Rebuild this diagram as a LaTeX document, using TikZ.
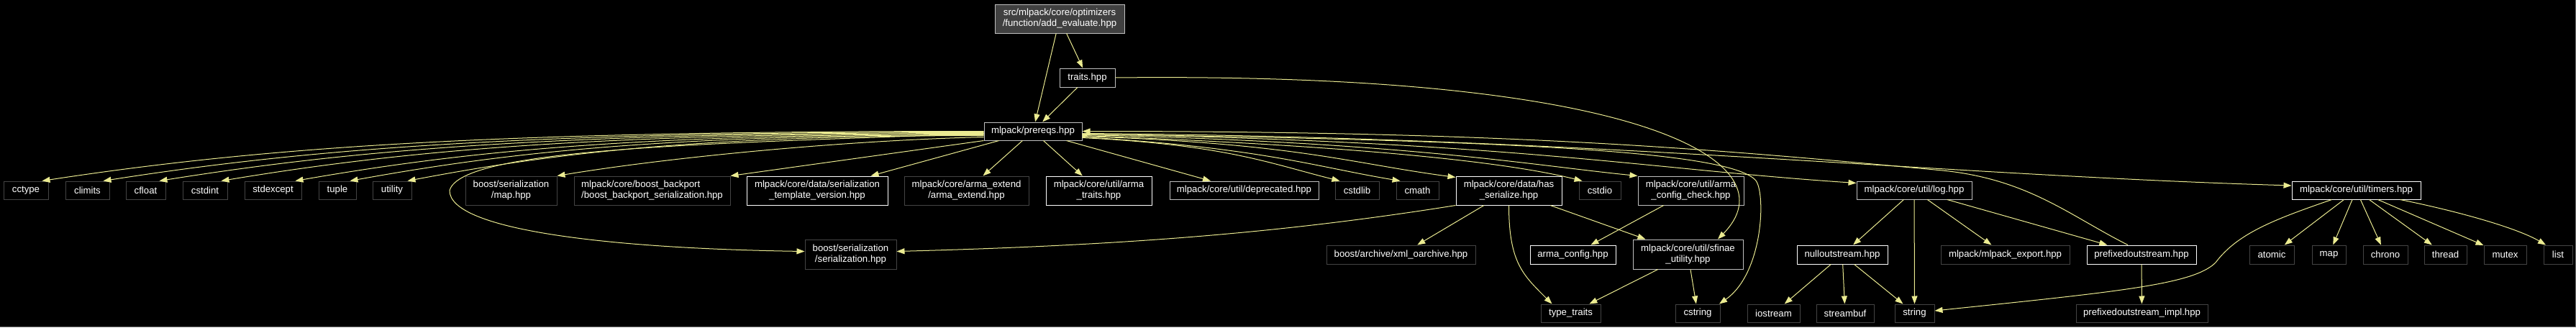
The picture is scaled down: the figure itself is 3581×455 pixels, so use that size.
\documentclass[tikz,border=0pt]{standalone}
\usepackage{fontspec}
\setmainfont{Liberation Sans}
\usetikzlibrary{arrows.meta}

\definecolor{edgeyellow}{RGB}{235,235,145}
\definecolor{extgray}{RGB}{68,68,68}
\definecolor{partgray}{RGB}{191,191,191}
\definecolor{rootfill}{RGB}{64,64,64}
\definecolor{framegray}{RGB}{110,110,110}

\tikzset{
  box/.style={rectangle, draw, fill=black, text=white, inner sep=0pt, minimum height=25pt,
    line width=1pt, align=center, font=\fontsize{13.2}{15}\selectfont},
  ext/.style={box, draw=extgray},
  doc/.style={box, draw=white},
  part/.style={box, draw=partgray},
  twoline/.style={minimum height=40pt},
  inc/.style={draw=edgeyellow, line width=1pt, -{Triangle[length=11pt, width=8pt]}}
}

\begin{document}
\begin{tikzpicture}[x=1pt, y=1pt]

    \useasboundingbox (0,0) rectangle (3581,-455);
    \fill[black] (0,0) rectangle (3581,-455); % background
    \draw[framegray] (0,-454.5) -- (3580.5,-454.5) -- (3580.5,0);

    % Top of the graph
    \node[part, fill=rootfill, twoline, minimum width=180pt] (root) at (1473,-26) {src/mlpack/core/optimizers\\/function/add\_evaluate.hpp};
    \node[part, minimum width=77pt, minimum height=26pt] (traits) at (1511.5,-108) {traits.hpp};
    \node[part, minimum width=136pt] (prereqs) at (1436,-182.5) {mlpack/prereqs.hpp};

    % First row
    \node[ext, minimum width=62pt] (cctype) at (36,-264.5) {cctype};
    \node[ext, minimum width=61pt] (climits) at (121.5,-264.5) {climits};
    \node[ext, minimum width=55pt] (cfloat) at (202.5,-264.5) {cfloat};
    \node[ext, minimum width=62pt] (cstdint) at (285,-264.5) {cstdint};
    \node[ext, minimum width=79pt] (stdexcept) at (379.5,-264.5) {stdexcept};
    \node[ext, minimum width=52pt] (tuple) at (469,-264.5) {tuple};
    \node[ext, minimum width=54pt] (utility) at (545,-264.5) {utility};
    \node[ext, twoline, minimum width=127pt] (smap) at (710.5,-265) {boost/serialization\\/map.hpp};
    \node[ext, twoline, minimum width=217pt, align=left] (backport) at (906.5,-265) {mlpack/core/boost\_backport\\/boost\_backport\_serialization.hpp};
    \node[doc, twoline, minimum width=196pt] (stv) at (1136,-265) {mlpack/core/data/serialization\\\_template\_version.hpp};
    \node[ext, twoline, minimum width=173pt] (armaext) at (1343.5,-265) {mlpack/core/arma\_extend\\/arma\_extend.hpp};
    \node[doc, twoline, minimum width=147pt] (armatraits) at (1527.5,-265) {mlpack/core/util/arma\\\_traits.hpp};
    \node[part, minimum width=207pt] (deprecated) at (1729.5,-264.5) {mlpack/core/util/deprecated.hpp};
    \node[ext, minimum width=61pt] (cstdlib) at (1886.5,-264.5) {cstdlib};
    \node[ext, minimum width=59pt] (cmath) at (1970.5,-264.5) {cmath};
    \node[doc, twoline, minimum width=147pt] (hasser) at (2097.5,-265) {mlpack/core/data/has\\\_serialize.hpp};
    \node[ext, minimum width=58pt] (cstdio) at (2224,-264.5) {cstdio};
    \node[part, twoline, minimum width=147pt] (armacc) at (2350.5,-265) {mlpack/core/util/arma\\\_config\_check.hpp};
    \node[part, minimum width=160pt] (log) at (2661,-264.5) {mlpack/core/util/log.hpp};
    \node[doc, minimum width=179pt] (timers) at (3275.5,-264.5) {mlpack/core/util/timers.hpp};

    % Second row
    \node[ext, twoline, minimum width=127pt, minimum height=41pt] (sser) at (1182.5,-353.5) {boost/serialization\\/serialization.hpp};
    \node[ext, minimum width=207pt, minimum height=26pt] (xmlo) at (1947.5,-354) {boost/archive/xml\_oarchive.hpp};
    \node[doc, minimum width=119pt, minimum height=26pt] (armaconf) at (2186.5,-354) {arma\_config.hpp};
    \node[part, twoline, minimum width=153pt, minimum height=41pt] (sfinae) at (2346.5,-353.5) {mlpack/core/util/sfinae\\\_utility.hpp};
    \node[doc, minimum width=126pt, minimum height=26pt] (nullout) at (2561,-354) {nulloutstream.hpp};
    \node[ext, minimum width=179pt, minimum height=26pt] (mlexport) at (2787.5,-354) {mlpack/mlpack\_export.hpp};
    \node[doc, minimum width=152pt, minimum height=26pt] (prefixed) at (2977,-354) {prefixedoutstream.hpp};
    \node[ext, minimum width=62pt, minimum height=26pt] (atomic) at (3158,-354) {atomic};
    \node[ext, minimum width=47pt, minimum height=26pt] (stdmap) at (3237.5,-354) {map};
    \node[ext, minimum width=62pt, minimum height=26pt] (chrono) at (3316,-354) {chrono};
    \node[ext, minimum width=59pt, minimum height=26pt] (thread) at (3399.5,-354) {thread};
    \node[ext, minimum width=59pt, minimum height=26pt] (mutex) at (3482.5,-354) {mutex};
    \node[ext, minimum width=40pt, minimum height=26pt] (list) at (3556,-354) {list};

    % Third row
    \node[ext, minimum width=83pt] (typetraits) at (2183.5,-435.5) {type\_traits};
    \node[ext, minimum width=62pt] (cstring) at (2360,-435.5) {cstring};
    \node[ext, minimum width=73pt] (iostream) at (2465.5,-435.5) {iostream};
    \node[ext, minimum width=80pt] (streambuf) at (2565,-435.5) {streambuf};
    \node[ext, minimum width=55pt] (string) at (2661.5,-435.5) {string};
    \node[ext, minimum width=183pt] (prefimpl) at (2977.5,-435.5) {prefixedoutstream\_impl.hpp};

    % Includes of the file itself
    \draw[inc] (root) -- (prereqs);
    \draw[inc] (root) -- (traits);
    \draw[inc] (traits) -- (prereqs);
    \draw[inc] (traits.east) .. controls +(750,8) and +(102,103) .. ([xshift=41.5pt]sfinae.north);

    % prereqs.hpp, to the left
    \draw[inc] (prereqs.west) .. controls +(-655,0) and +(327,50) .. ([xshift=-9pt]cctype.north east);
    \draw[inc] ([yshift=-1pt]prereqs.west) .. controls +(-612,0) and +(306,48) .. ([xshift=-9pt]climits.north east);
    \draw[inc] ([yshift=-2pt]prereqs.west) .. controls +(-573,0) and +(287,46) .. ([xshift=-9pt]cfloat.north east);
    \draw[inc] ([yshift=-3pt]prereqs.west) .. controls +(-530,0) and +(265,44) .. ([xshift=-9pt]cstdint.north east);
    \draw[inc] ([yshift=-4pt]prereqs.west) .. controls +(-479,0) and +(240,42) .. ([xshift=-9pt]stdexcept.north east);
    \draw[inc] ([yshift=-5pt]prereqs.west) .. controls +(-441,0) and +(220,40) .. ([xshift=-9pt]tuple.north east);
    \draw[inc] ([yshift=-6pt]prereqs.west) .. controls +(-402,0) and +(200,38) .. ([xshift=-6pt]utility.north east);
    \draw[inc] ([yshift=-3pt]prereqs.west) .. controls +(-368,-14) and +(15,60) .. (625,-265)
        .. controls +(0,-55) and +(-269,4) .. ([yshift=4pt]sser.west);
    \draw[inc] ([yshift=-8pt]prereqs.west) .. controls +(-200,-5) and +(150,25) .. (smap.north east);
    \draw[inc] (prereqs.south west) -- (backport.north east);
    \draw[inc] (prereqs) -- (stv);
    \draw[inc] (prereqs) -- (armaext);
    \draw[inc] (prereqs) -- (armatraits);
    \draw[inc] (prereqs) -- (deprecated);

    % prereqs.hpp, to the right
    \draw[inc] ([yshift=-9pt]prereqs.east) .. controls +(200,-10) and +(-100,25) .. ([xshift=7pt]cstdlib.north west);
    \draw[inc] ([yshift=-8pt]prereqs.east) .. controls +(250,-15) and +(-120,20) .. ([xshift=6pt]cmath.north west);
    \draw[inc] ([yshift=-7pt]prereqs.east) .. controls +(300,-10) and +(-150,20) .. ([yshift=-2pt]hasser.north west);
    \draw[inc] ([yshift=-6pt]prereqs.east) .. controls +(400,-15) and +(-100,25) .. ([xshift=5pt]cstdio.north west);
    \draw[inc] ([yshift=-5pt]prereqs.east) .. controls +(450,-10) and +(-150,15) .. (armacc.north west);
    \draw[inc] ([yshift=-4pt]prereqs.east) .. controls +(600,-10) and +(-300,20) .. ([yshift=-3pt]log.north west);
    \draw[inc] ([yshift=-3pt]prereqs.east) .. controls +(700,-5) and +(-500,15) .. ([yshift=6.5pt]timers.west);
    \draw[inc] ([yshift=-4pt]prereqs.east) .. controls +(596,-8.5) and +(-40,40) .. (2440,-250)
        .. controls +(15,-15) and +(62,43) .. ([xshift=30pt]cstring.north);
    \draw[inc] ([xshift=-19pt]prefixed.north) .. controls +(-80,40) and +(120,-12) .. (2700,-237)
        .. controls +(-320,30) and +(600,0) .. (prereqs.east);

    % has_serialize.hpp
    \draw[inc] (hasser.south west) .. controls +(-250,-40) and +(300,8) .. ([yshift=4pt]sser.east);
    \draw[inc] (hasser) -- (xmlo);
    \draw[inc] (hasser.south) .. controls +(0,-80) and +(-40,40) .. ([xshift=-26pt]typetraits.north);
    \draw[inc] (hasser) -- (sfinae);

    % util headers
    \draw[inc] (armacc) -- (armaconf);
    \draw[inc] (sfinae) -- (typetraits);
    \draw[inc] (sfinae) -- (cstring);
    \draw[inc] (log) -- (nullout);
    \draw[inc] (log) -- (string);
    \draw[inc] (log) -- (mlexport);
    \draw[inc] (log) -- (prefixed);
    \draw[inc] (nullout) -- (iostream);
    \draw[inc] (nullout) -- (streambuf);
    \draw[inc] (nullout) -- (string);
    \draw[inc] (prefixed) -- (prefimpl);

    % timers.hpp
    \draw[inc] (timers) -- (atomic);
    \draw[inc] (timers) -- (stdmap);
    \draw[inc] (timers) -- (chrono);
    \draw[inc] (timers) -- (thread);
    \draw[inc] (timers) -- (mutex);
    \draw[inc] ([xshift=-29pt]timers.south east) .. controls +(84,-17) and +(-39,23) .. ([xshift=-17pt]list.north);
    \draw[inc] ([xshift=-34pt]timers.south) .. controls +(-81.5,-28) and +(30,40) .. (3080,-365)
        .. controls +(-30,-30) and +(261,27) .. ([yshift=3.5pt]string.east);

\end{tikzpicture}
\end{document}
